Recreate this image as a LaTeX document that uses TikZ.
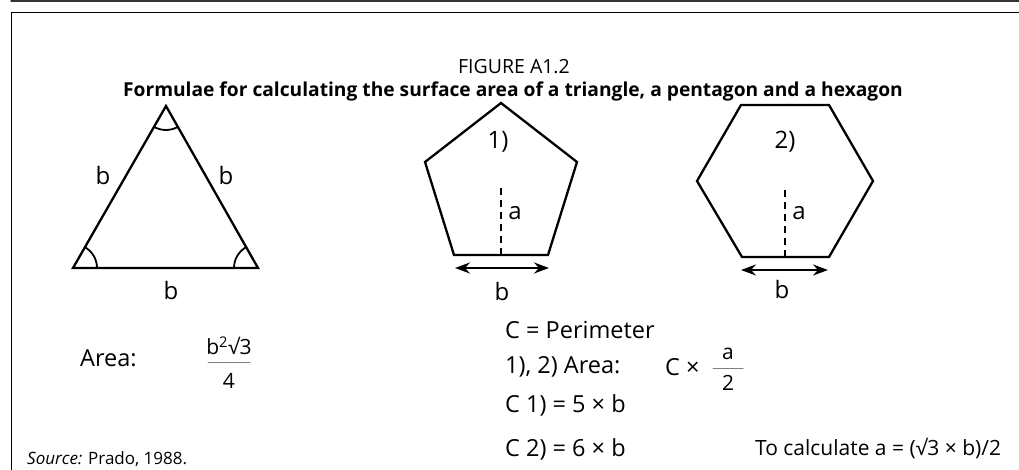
\documentclass[tikz,border=0pt]{standalone}
\usepackage{fontspec}
\setmainfont{Open Sans}
\usetikzlibrary{arrows.meta,angles}

\begin{document}
\begin{tikzpicture}[x=1pt,y=-1pt,>={Stealth[length=15pt,width=11pt,inset=5pt]},line cap=round,
  outline/.style={line width=2.3pt,line join=miter},
  angmark/.style={draw,line width=1.8pt,angle radius=24pt},
  lbl/.style={inner sep=0pt,font=\fontsize{24}{28}\selectfont},
  txt/.style={inner sep=0pt,anchor=west,font=\fontsize{23.5}{28}\selectfont},
  fracpart/.style={inner sep=0pt,font=\fontsize{21}{25}\selectfont},
  heightline/.style={line width=2pt,line cap=butt,dash pattern=on 7pt off 5pt},
  fracbar/.style={line width=1pt,gray}]
\useasboundingbox (0,0) rectangle (1019,470);
% frame
\draw[line width=1.5pt,black!80] (11,1) -- (1019,1);
\draw[line width=1.3pt] (1019,12.5) -| (11.5,470);
% title
\node[inner sep=0pt,font=\fontsize{19.5}{23}\selectfont] (fig) at (514,67) {FIGURE A1.2};
\node[inner sep=0pt,font=\bfseries\fontsize{19.2}{23}\selectfont] (title) at (513,91)
  {Formulae for calculating the surface area of a triangle, a pentagon and a hexagon};

% triangle
\coordinate (tA) at (166,106);
\coordinate (tL) at (73,268);
\coordinate (tR) at (258,268);
\draw[outline] (tA) -- (tL) -- (tR) -- cycle;
\pic[angmark] {angle=tR--tL--tA};
\pic[angmark] {angle=tA--tR--tL};
\pic[angmark] {angle=tL--tA--tR};
\node[lbl] (tb1) at (103,176) {b};
\node[lbl] (tb2) at (226,176) {b};
\node[lbl] (tb3) at (171,290) {b};

% pentagon
\coordinate (p1) at (501,103);
\coordinate (p2) at (425,162);
\coordinate (p3) at (454,255);
\coordinate (p4) at (548,255);
\coordinate (p5) at (577,162);
\draw[outline] (p1) -- (p2) -- (p3) -- (p4) -- (p5) -- cycle;
\coordinate (pm) at (501,255);
\coordinate (pa) at (501,188);
\draw[heightline] (pm) -- (pa);
\coordinate (pb1) at (455,268);
\coordinate (pb2) at (549,268);
\draw[<->,line width=2pt] (pb1) -- (pb2);
\node[lbl] (pnum) at (498,142) {1)};
\node[lbl] (pla) at (515,213) {a};
\node[lbl] (plb) at (502,291) {b};

% hexagon
\coordinate (h1) at (741,105);
\coordinate (h2) at (697,181);
\coordinate (h3) at (742,257);
\coordinate (h4) at (829,257);
\coordinate (h5) at (873,181);
\coordinate (h6) at (829,105);
\draw[outline] (h1) -- (h2) -- (h3) -- (h4) -- (h5) -- (h6) -- cycle;
\coordinate (hm) at (785,257);
\coordinate (ha) at (785,188);
\draw[heightline] (hm) -- (ha);
\coordinate (hb1) at (741,270);
\coordinate (hb2) at (828,270);
\draw[<->,line width=2pt] (hb1) -- (hb2);
\node[lbl] (hnum) at (785,142) {2)};
\node[lbl] (hla) at (799,213) {a};
\node[lbl] (hlb) at (782,289) {b};

% triangle area
\node[txt] (tarea) at (80,358) {Area:};
\node[fracpart] (tnum) at (229,346) {b\textsuperscript{2}√3};
\node[fracpart] (tden) at (229,381) {4};
\draw[fracbar] (208,362) -- (250,362);

% polygon formulae
\node[txt] (perim) at (505,330) {C = Perimeter};
\node[txt] (parea) at (505,367) {1), 2) Area:};
\node[txt] (ctimes) at (665,367) {C ×};
\node[fracpart] (anum) at (728,354) {a};
\node[fracpart] (aden) at (728,383) {2};
\draw[fracbar] (713,368) -- (743,368);
\node[txt] (c1) at (505,405) {C 1) = 5 × b};
\node[txt] (c2) at (505,449) {C 2) = 6 × b};
\node[txt,font=\fontsize{21}{25}\selectfont] (calc) at (755,449) {To calculate a = (√3 × b)/2};

% source
\node[inner sep=0pt,anchor=west,font=\fontsize{17}{20}\selectfont] (src) at (27,459)
  {\textit{Source:} Prado, 1988.};
\end{tikzpicture}
\end{document}
